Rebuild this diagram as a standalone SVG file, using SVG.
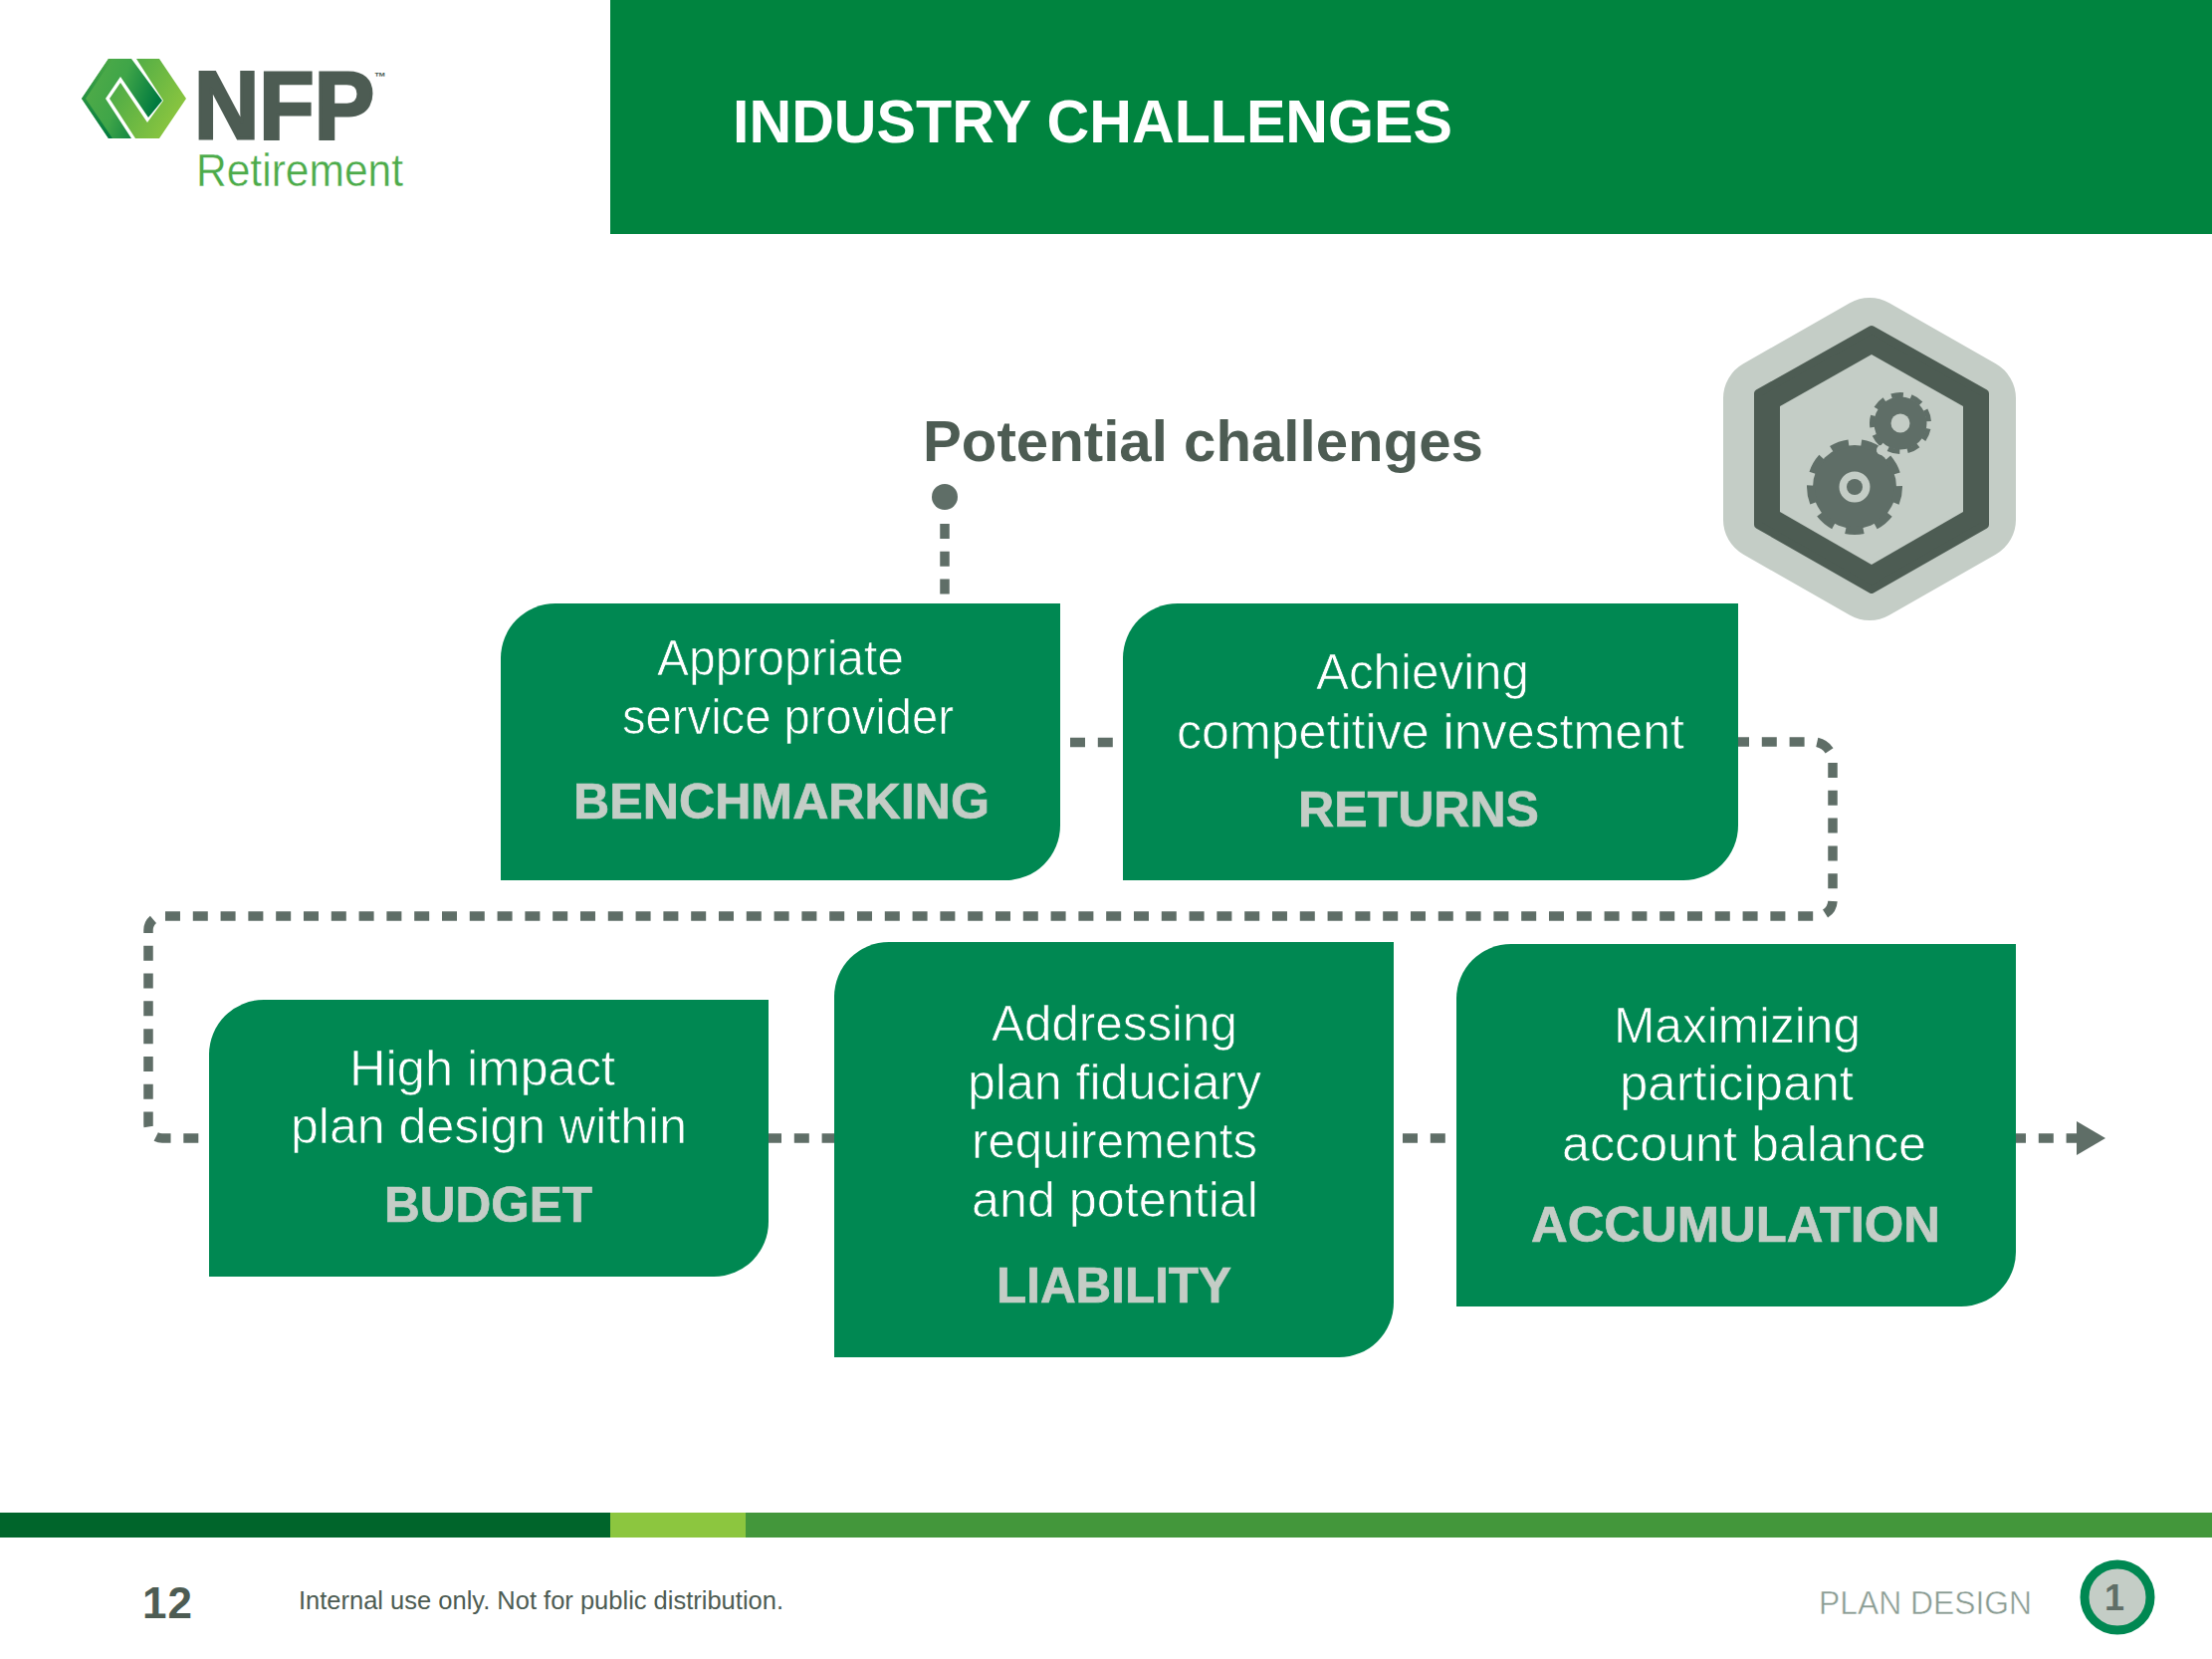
<svg xmlns="http://www.w3.org/2000/svg" width="2222" height="1666" viewBox="0 0 2222 1666">
<style>
text{font-family:"Liberation Sans",Arial,sans-serif}
.box{fill:#008852}
.t{fill:#fff;font-size:50px;stroke:#008852;stroke-width:.7px}
.k{fill:#c4cdc6;font-size:50px;font-weight:700;stroke:#c4cdc6;stroke-width:.7px}
.dash{fill:none;stroke:#5f6e67;stroke-width:9.5;stroke-dasharray:15 12.8}
.ink{fill:#4d5c53}
.gear{fill:#5f6e67}
</style>
<defs>
<linearGradient id="g1" x1="0" y1="0" x2="1" y2="0.35"><stop offset="0" stop-color="#55ad48"/><stop offset="0.55" stop-color="#3fa548"/><stop offset="1" stop-color="#007a3f"/></linearGradient>
<linearGradient id="g2" x1="0" y1="0" x2="1" y2="0.6"><stop offset="0" stop-color="#3fa548"/><stop offset="1" stop-color="#8cc63f"/></linearGradient>
<linearGradient id="g3" x1="0" y1="0" x2="0" y2="1"><stop offset="0" stop-color="#4aa845"/><stop offset="1" stop-color="#007a3f"/></linearGradient>
</defs>
<rect width="2222" height="1666" fill="#fff"/>
<rect id="header" x="613" y="0" width="1609" height="235" fill="#00843f"/>
<text x="736" y="143" font-size="62" font-weight="700" fill="#fff" textLength="723" lengthAdjust="spacingAndGlyphs">INDUSTRY CHALLENGES</text>
<g id="logo">
<polygon points="109,59 132,59 163,101 149,118 121,77 106,99 132,139 109,139 82,99" fill="url(#g1)"/>
<polygon points="109,59 113,59 86,99 113,139 109,139 82,99" fill="url(#g3)"/>
<polygon points="137,59 160,59 187,99 160,139 136,139 110,99 121,83 148,123 164,101" fill="url(#g2)"/>
<text x="195" y="139" font-size="96" font-weight="700" class="ink" stroke="#4d5c53" stroke-width="3" textLength="181" lengthAdjust="spacingAndGlyphs">NFP</text>
<text x="376" y="81" font-size="12" font-weight="700" class="ink">™</text>
<text x="197" y="187" font-size="47" fill="#4cab4a" stroke="#fff" stroke-width=".4" textLength="208" lengthAdjust="spacingAndGlyphs">Retirement</text>
</g>
<text x="927" y="463" font-size="58" font-weight="700" class="ink" textLength="563" lengthAdjust="spacingAndGlyphs">Potential challenges</text>
<g id="icon">
<polygon points="1878,339 1985,400 1985,522 1878,583 1771,522 1771,400" fill="#c4cdc6" stroke="#c4cdc6" stroke-width="80" stroke-linejoin="round"/>
<polygon points="1880,331 1994,395 1994,527 1880,592 1766,527 1766,395" fill="#4d5c53" stroke="#4d5c53" stroke-width="8" stroke-linejoin="round"/>
<polygon points="1880,356 1972,408 1972,514 1880,567 1788,514 1788,408" fill="#c4cdc6"/>
<g class="gear">
<circle cx="1863" cy="489" r="42"/>
<circle cx="1863" cy="489" r="44" fill="none" stroke="#5f6e67" stroke-width="8" stroke-dasharray="18 12.72" stroke-dashoffset="-60.1"/>
<circle cx="1863" cy="489" r="15.5" fill="#c4cdc6"/>
<circle cx="1863" cy="489" r="8"/>
<circle cx="1909" cy="425" r="26.5"/>
<circle cx="1909" cy="425" r="28.5" fill="none" stroke="#5f6e67" stroke-width="5" stroke-dasharray="12 7.9" stroke-dashoffset="-125"/>
<circle cx="1909" cy="425" r="9.5" fill="#c4cdc6"/>
<circle cx="1890" cy="452" r="5" fill="#c4cdc6"/>
</g>
</g>
<g id="connectors">
<circle cx="949" cy="499" r="13" fill="#5f6e67"/>
<path class="dash" d="M949 526V600"/>
<path class="dash" d="M1075 745.5H1120"/>
<path class="dash" d="M1742 745H1821A20 20 0 0 1 1841 765V904A16 16 0 0 1 1825 920H163A14 14 0 0 0 149 934V1129A14 14 0 0 0 163 1143H214"/>
<path class="dash" d="M770 1143H840"/>
<path class="dash" d="M1409 1143H1465"/>
<path class="dash" d="M2020 1143H2090"/>
<polygon points="2086,1126 2115,1143 2086,1160" fill="#5f6e67"/>
</g>
<g id="node-benchmarking">
<path class="box" d="M558 606H1065V829A55 55 0 0 1 1010 884H503V661A55 55 0 0 1 558 606Z"/>
<text class="t" x="660" y="678" textLength="248" lengthAdjust="spacingAndGlyphs">Appropriate</text>
<text class="t" x="625" y="737" textLength="333" lengthAdjust="spacingAndGlyphs">service provider</text>
<text class="k" x="576" y="822" textLength="418" lengthAdjust="spacingAndGlyphs">BENCHMARKING</text>
</g>
<g id="node-returns">
<path class="box" d="M1183 606H1746V829A55 55 0 0 1 1691 884H1128V661A55 55 0 0 1 1183 606Z"/>
<text class="t" x="1322" y="692" textLength="214" lengthAdjust="spacingAndGlyphs">Achieving</text>
<text class="t" x="1182" y="752" textLength="510" lengthAdjust="spacingAndGlyphs">competitive investment</text>
<text class="k" x="1304" y="830" textLength="242" lengthAdjust="spacingAndGlyphs">RETURNS</text>
</g>
<g id="node-budget">
<path class="box" d="M265 1004H772V1227A55 55 0 0 1 717 1282H210V1059A55 55 0 0 1 265 1004Z"/>
<text class="t" x="351" y="1090" textLength="267" lengthAdjust="spacingAndGlyphs">High impact</text>
<text class="t" x="292" y="1148" textLength="398" lengthAdjust="spacingAndGlyphs">plan design within</text>
<text class="k" x="386" y="1227" textLength="209" lengthAdjust="spacingAndGlyphs">BUDGET</text>
</g>
<g id="node-liability">
<path class="box" d="M893 946H1400V1308A55 55 0 0 1 1345 1363H838V1001A55 55 0 0 1 893 946Z"/>
<text class="t" x="996" y="1045" textLength="247" lengthAdjust="spacingAndGlyphs">Addressing</text>
<text class="t" x="972" y="1104" textLength="295" lengthAdjust="spacingAndGlyphs">plan fiduciary</text>
<text class="t" x="976" y="1163" textLength="287" lengthAdjust="spacingAndGlyphs">requirements</text>
<text class="t" x="976" y="1222" textLength="288" lengthAdjust="spacingAndGlyphs">and potential</text>
<text class="k" x="1001" y="1308" textLength="236" lengthAdjust="spacingAndGlyphs">LIABILITY</text>
</g>
<g id="node-accumulation">
<path class="box" d="M1518 948H2025V1257A55 55 0 0 1 1970 1312H1463V1003A55 55 0 0 1 1518 948Z"/>
<text class="t" x="1621" y="1047" textLength="248" lengthAdjust="spacingAndGlyphs">Maximizing</text>
<text class="t" x="1627" y="1105" textLength="235" lengthAdjust="spacingAndGlyphs">participant</text>
<text class="t" x="1569" y="1166" textLength="366" lengthAdjust="spacingAndGlyphs">account balance</text>
<text class="k" x="1538" y="1247" textLength="411" lengthAdjust="spacingAndGlyphs">ACCUMULATION</text>
</g>
<g id="footer">
<rect x="0" y="1519" width="613" height="25" fill="#00652b"/>
<rect x="613" y="1519" width="136" height="25" fill="#8cc63f"/>
<rect x="749" y="1519" width="1473" height="25" fill="#43973b"/>
<text x="143" y="1625" font-size="44" font-weight="700" class="ink" textLength="50">12</text>
<text x="300" y="1616" font-size="25" class="ink" textLength="487" lengthAdjust="spacingAndGlyphs">Internal use only. Not for public distribution.</text>
<text x="1827" y="1621" font-size="34" fill="#8a9c93" stroke="#fff" stroke-width=".5" textLength="214" lengthAdjust="spacingAndGlyphs">PLAN DESIGN</text>
<circle cx="2127" cy="1604" r="33" fill="#c4cdc6" stroke="#008852" stroke-width="9"/>
<text x="2124" y="1617" font-size="36" font-weight="700" fill="#5f6e67" text-anchor="middle">1</text>
</g>
</svg>
